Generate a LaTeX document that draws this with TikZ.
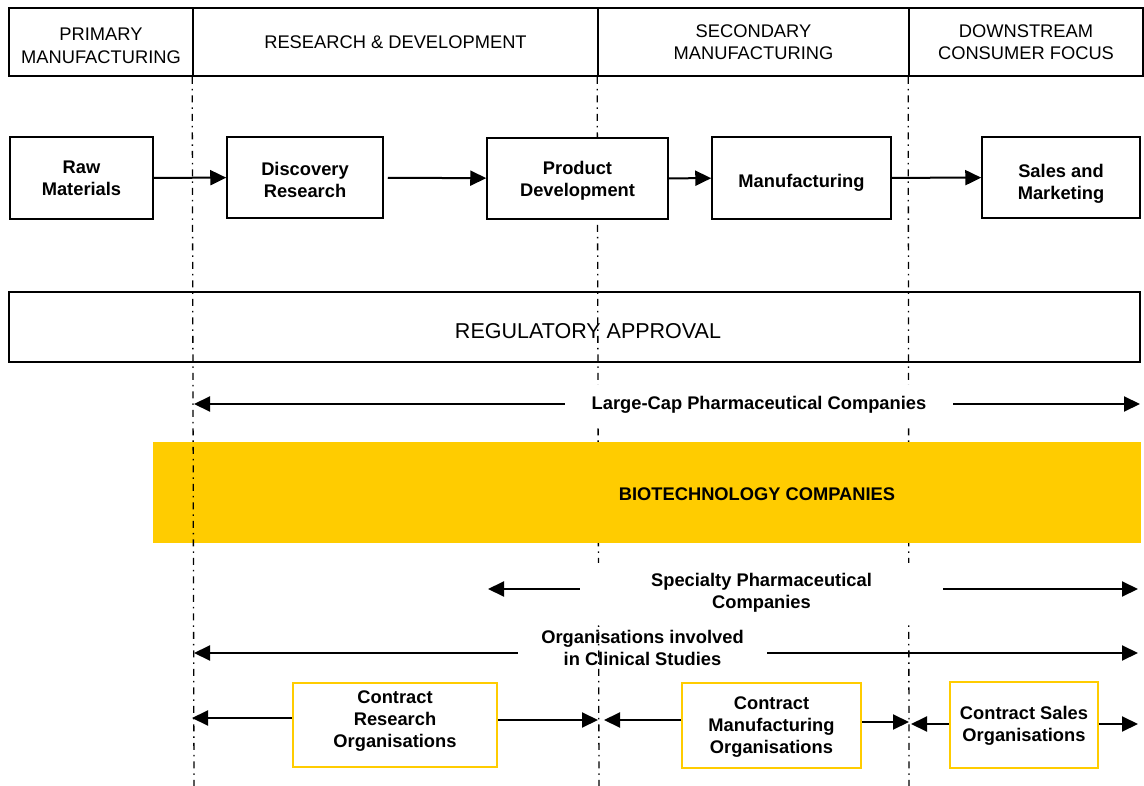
\documentclass[tikz,border=0pt]{standalone}
\usepackage{fontspec}
\setmainfont{Liberation Sans}
\usetikzlibrary{arrows.meta}
\definecolor{gold}{HTML}{FFCC00}
\begin{document}
\begin{tikzpicture}[x=1pt,y=-1pt,
 hdr/.style={draw,line width=1.6pt,align=center,font=\fontsize{18.3}{21.5}\selectfont,inner sep=0pt,minimum height=68pt},
 proc/.style={draw,line width=1.5pt,fill=white,inner sep=0pt},
 lab/.style={align=center,font=\bfseries\fontsize{18.3}{22}\selectfont,inner sep=0pt},
 cbox/.style={draw=gold,line width=1.6pt,fill=white,inner sep=0pt},
 arr/.style={line width=2pt,-{Triangle[length=16pt,width=15pt]}},
 vline/.style={line width=1.3pt,dash pattern=on 7pt off 5pt on 1.5pt off 5pt}
]
\useasboundingbox (0,0) rectangle (1144,786);

% header row
\node[hdr,minimum width=184pt] (h1) at (101,42) {};
\node[font=\fontsize{18.3}{23}\selectfont,align=center,inner sep=0pt] (h1txt) at (101,45.5) {PRIMARY\\MANUFACTURING};
\node[hdr,minimum width=405pt] (h2) at (395.5,42) {RESEARCH \& DEVELOPMENT};
\node[hdr,minimum width=311pt] (h3) at (753.5,42) {SECONDARY\\MANUFACTURING};
\node[hdr,minimum width=234pt] (h4) at (1026,42) {DOWNSTREAM\\CONSUMER FOCUS};

% regulatory approval
\node[draw,line width=1.5pt,minimum width=1131pt,minimum height=70pt,inner sep=0pt] (reg) at (574.5,327) {};
\node[font=\fontsize{21.5}{24}\selectfont,inner sep=0pt] (regtxt) at (588,331) {REGULATORY APPROVAL};

% dash-dot dividers (behind)
\coordinate (v2b) at (599,786);
\coordinate (v3b) at (909,786);
\coordinate (v1b) at (194,786);
\draw[vline] (h3.south west) -- (v2b);
\draw[vline] (h4.south west) -- (v3b);

% biotechnology band
\node[fill=gold,minimum width=988pt,minimum height=101pt,inner sep=0pt] (band) at (647,492.5) {};
\node[lab] (bandtxt) at (757,494) {BIOTECHNOLOGY COMPANIES};

% process boxes
\node[proc,minimum width=143pt,minimum height=82pt] (raw) at (81.5,178) {};
\node[lab] (rawtxt) at (81.5,178) {Raw\\Materials};
\node[proc,minimum width=156pt,minimum height=81pt] (disc) at (305,177.5) {};
\node[lab] (disctxt) at (305,180) {Discovery\\Research};
\node[proc,minimum width=181pt,minimum height=81pt] (prod) at (577.5,178.5) {};
\node[lab] (prodtxt) at (577.5,180.5) {Product\\Development};
\node[proc,minimum width=179pt,minimum height=82pt] (manu) at (801.5,178) {};
\node[lab] (manutxt) at (801.5,183) {Manufacturing};
\node[proc,minimum width=158pt,minimum height=81pt] (sales) at (1061,177.5) {};
\node[lab] (salestxt) at (1061,183.5) {Sales and\\Marketing};
\draw[arr] (raw) -- (disc);
\draw[arr,shorten <=4pt] (disc) -- (prod);
\draw[arr] (prod) -- (manu);
\draw[arr] (manu) -- (sales);

% large-cap
\coordinate (lcL) at (194,404);
\coordinate (lcR) at (1140,404);
\node[lab,fill=white,minimum width=388pt,minimum height=40pt] (lc) at (759,405) {Large-Cap Pharmaceutical Companies};
\draw[arr] (lc.west |- lcL) -- (lcL);
\draw[arr] (lc.east |- lcR) -- (lcR);

% specialty
\coordinate (spL) at (488,589);
\coordinate (spR) at (1138,589);
\node[lab,fill=white,minimum width=363pt,minimum height=60pt] (sp) at (761.5,592.5) {Specialty Pharmaceutical\\Companies};
\draw[arr] (sp.west |- spL) -- (spL);
\draw[arr] (sp.east |- spR) -- (spR);

% clinical studies
\coordinate (oL) at (194,653);
\coordinate (oR) at (1138,653);
\node[lab,minimum width=249pt] (org) at (642.5,648) {Organisations involved\\in Clinical Studies};
\draw[arr] (org.west |- oL) -- (oL);
\draw[arr] (org.east |- oR) -- (oR);

% contract organisations
\node[cbox,minimum width=204pt,minimum height=84pt] (cro) at (395,725) {};
\node[lab] (crotxt) at (395,721.5) {Contract\\Research\\Organisations};
\node[cbox,minimum width=179pt,minimum height=85pt] (cmo) at (771.5,725.5) {};
\node[lab] (cmotxt) at (771.5,727.5) {Contract\\Manufacturing\\Organisations};
\node[cbox,minimum width=148pt,minimum height=86pt] (cso) at (1024,725) {};
\node[lab] (csotxt) at (1024,726) {Contract Sales\\Organisations};
\coordinate (a1) at (192,718);
\coordinate (a2) at (598,720);
\coordinate (a3) at (604,720);
\coordinate (a4) at (909,722);
\coordinate (a5) at (911,724);
\coordinate (a6) at (1138,724);
\draw[arr] (cro.west |- a1) -- (a1);
\draw[arr] (cro.east |- a2) -- (a2);
\draw[arr] (cmo.west |- a3) -- (a3);
\draw[arr] (cmo.east |- a4) -- (a4);
\draw[arr] (cso.west |- a5) -- (a5);
\draw[arr] (cso.east |- a6) -- (a6);

% first divider on top
\draw[vline] (h2.south west) -- (v1b);
\end{tikzpicture}
\end{document}
